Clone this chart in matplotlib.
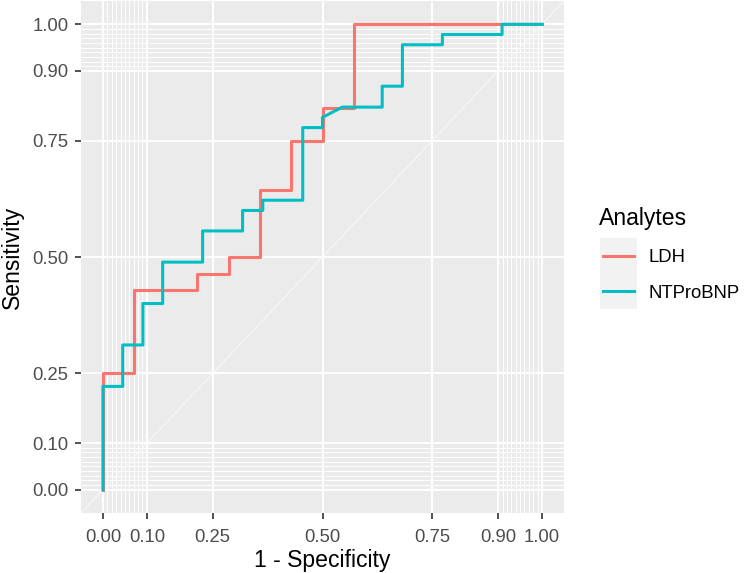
import numpy as np
import matplotlib
matplotlib.use("Agg")
import matplotlib.pyplot as plt
from matplotlib.patches import Rectangle
from matplotlib.lines import Line2D

# ==========================================
# 1. DATA (ROC corner points)
# ==========================================
analytes = ["LDH", "NTProBNP"]
colors = ["#F8766D", "#00BFC4"]

ldh_fpr = [0.0, 0.0, 0.071, 0.071, 0.214, 0.214, 0.286, 0.286, 0.357, 0.357,
           0.429, 0.429, 0.5, 0.5, 0.571, 0.571, 1.0]
ldh_tpr = [0.0, 0.25, 0.25, 0.429, 0.429, 0.464, 0.464, 0.5, 0.5, 0.643,
           0.643, 0.75, 0.75, 0.821, 0.821, 1.0, 1.0]

bnp_fpr = [0.0, 0.0, 0.045, 0.045, 0.091, 0.091, 0.136, 0.136, 0.227, 0.227,
           0.318, 0.318, 0.364, 0.364, 0.455, 0.455, 0.5, 0.5, 0.545, 0.636,
           0.636, 0.682, 0.682, 0.773, 0.773, 0.909, 0.909, 1.0]
bnp_tpr = [0.0, 0.222, 0.222, 0.311, 0.311, 0.4, 0.4, 0.489, 0.489, 0.556,
           0.556, 0.6, 0.6, 0.622, 0.622, 0.778, 0.778, 0.8, 0.822, 0.822,
           0.867, 0.867, 0.956, 0.956, 0.978, 0.978, 1.0, 1.0]

major_breaks = [0.0, 0.1, 0.25, 0.5, 0.75, 0.9, 1.0]
major_labels = ["0.00", "0.10", "0.25", "0.50", "0.75", "0.90", "1.00"]
minor_breaks = list(np.round(np.arange(0.01, 0.1, 0.01), 2)) + \
               list(np.round(np.arange(0.91, 1.0, 0.01), 2))

# ==========================================
# 2. STYLE
# ==========================================
W, H = 748, 573
plt.rcParams["font.family"] = ["Liberation Sans", "DejaVu Sans"]


def fx(px):
    return px / W


def fy(py):
    return 1 - py / H


fig = plt.figure(figsize=(W / 100, H / 100), dpi=100)
ax = fig.add_axes([fx(81), fy(513), fx(564) - fx(81), fy(1) - fy(513)])
ax.set_facecolor("#EBEBEB")
for s in ax.spines.values():
    s.set_visible(False)

ax.set_xlim(-0.05, 1.05)
ax.set_ylim(-0.05, 1.05)
ax.set_xticks(major_breaks)
ax.set_xticklabels(major_labels)
ax.set_yticks(major_breaks)
ax.set_yticklabels(major_labels)
ax.set_xticks(minor_breaks, minor=True)
ax.set_yticks(minor_breaks, minor=True)
ax.tick_params(which="major", length=4, width=1.2, color="#333333",
               labelcolor="#4D4D4D", labelsize=13.3)
ax.tick_params(axis="x", which="major", pad=7.3)
ax.tick_params(axis="y", which="major", pad=5)
ax.tick_params(which="minor", length=0)
ax.grid(which="major", color="white", linewidth=1.4)
ax.grid(which="minor", color="white", linewidth=0.7)
ax.set_axisbelow(True)

# ==========================================
# 3. PLOT
# ==========================================
ax.axline((0, 0), slope=1, color="#F8F8F8", linewidth=0.8, zorder=1.5)
ax.plot(ldh_fpr, ldh_tpr, color=colors[0], linewidth=2.2, zorder=3)
ax.plot(bnp_fpr, bnp_tpr, color=colors[1], linewidth=2.2, zorder=4)

ax.set_xlabel("1 - Specificity", fontsize=16.6, labelpad=2.5)
ax.set_ylabel("Sensitivity", fontsize=16.6, labelpad=6)

# legend drawn like ggplot's guide
fig.text(fx(599), fy(225), "Analytes", fontsize=16.6, va="baseline", ha="left")
key_top = 238
key_h = 35.5
for i, (name, col) in enumerate(zip(analytes, colors)):
    top = key_top + i * key_h
    fig.patches.append(Rectangle((fx(600), fy(top + key_h)), fx(637) - fx(600),
                                 fy(top) - fy(top + key_h), transform=fig.transFigure,
                                 facecolor="#F2F2F2", edgecolor="none"))
    yc = top + key_h / 2
    fig.lines.append(Line2D([fx(603), fx(634)], [fy(yc), fy(yc)], transform=fig.transFigure,
                            color=col, linewidth=2.2))
    fig.text(fx(648), fy(yc), name, fontsize=13.3, va="center_baseline", ha="left")

fig.savefig("out.png", dpi=100)
